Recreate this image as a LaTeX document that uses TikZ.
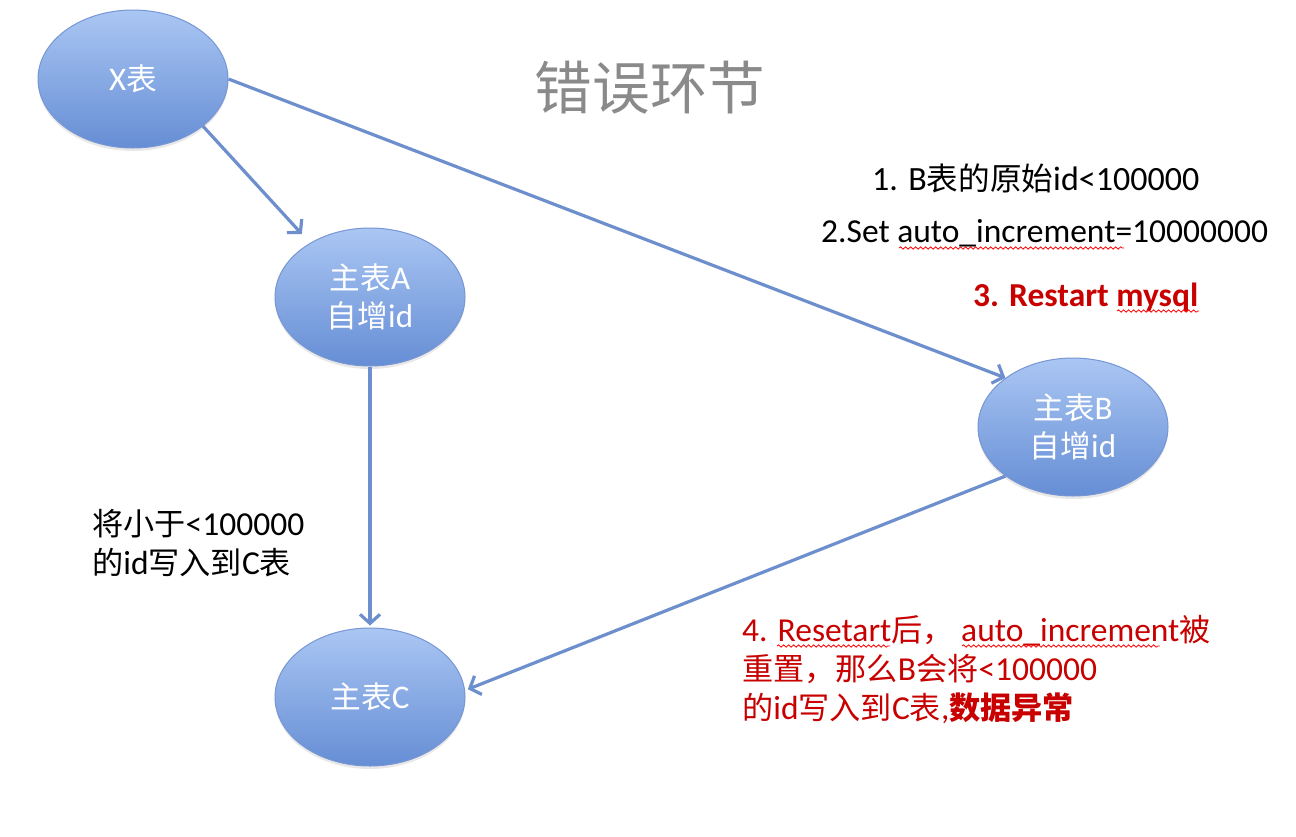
\documentclass[tikz,border=0pt]{standalone}
\usepackage{fontspec}
\setmainfont{Carlito}
\newfontfamily\cjk[Scale=0.93]{Noto Sans CJK SC}
\newcommand\C[1]{{\cjk #1}}
\usetikzlibrary{shapes.geometric,arrows.meta,shadows,decorations.pathmorphing}
\definecolor{elltop}{RGB}{170,198,243}
\definecolor{ellbot}{RGB}{102,142,213}
\definecolor{ellline}{RGB}{118,150,212}
\definecolor{arr}{RGB}{110,143,205}
\definecolor{redtxt}{RGB}{200,0,0}
\definecolor{titlegray}{RGB}{138,138,138}
\tikzset{
  ell/.style={ellipse, minimum width=190pt, minimum height=138pt, inner sep=0pt,
    top color=elltop, bottom color=ellbot, draw=ellline, line width=1pt,
    text=white, align=center, font=\fontsize{33}{38}\selectfont,
    drop shadow={opacity=0.18, shadow xshift=0pt, shadow yshift=-3pt}},
  conn/.style={draw=arr, line width=3.2pt, -{Straight Barb[length=9pt,width=20pt]}},
  lbl/.style={inner sep=0pt, anchor=west, align=left, font=\fontsize{33.5}{39}\selectfont},
  squig/.style={draw=red, line width=0.8pt, decorate, decoration={snake, amplitude=1.2pt, segment length=5pt}}
}
\begin{document}
\begin{tikzpicture}[x=1pt,y=-1pt]
\useasboundingbox[fill=white] (0,0) rectangle (1296,836);
% title
\node[inner sep=0pt, text=titlegray, font=\fontsize{62}{62}\selectfont] (title) at (650,88) {\C{错误环节}};
% ellipses
\node[ell] (X) at (133,79) {X\C{表}};
\node[ell] (A) at (370,297) {\C{主表}A\\\C{自增}id};
\node[ell] (B) at (1073,427) {\C{主表}B\\\C{自增}id};
\node[ell] (Cn) at (370,697) {\C{主表}C};
% connectors
\draw[conn, shorten >=12pt] (X.-34) -- (A.138);
\draw[conn] (X.0) -- (B.144);
\draw[conn, shorten >=2pt] (A.-90) -- (Cn.90);
\draw[conn, shorten >=3pt] (B.216) -- (Cn.4);
% labels
\node[lbl, font=\fontsize{34}{39}\selectfont] (l1) at (872,178) {1. B\C{表的原始}id<100000};
\node[lbl] (l2) at (821,233) {2.Set auto\_increment=10000000};
\node[lbl, text=redtxt, font=\fontsize{33.5}{39}\selectfont\bfseries] (l3) at (973,297) {3. Restart mysql};
\node[lbl] (l4) at (92,543) {\C{将小于}<100000\\\C{的}id\C{写入到}C\C{表}};
\node[lbl, text=redtxt] (l5) at (742,670) {4. Resetart\C{后，} auto\_increment\C{被}\\\C{重置，那么}B\C{会将}<100000\\\C{的}id\C{写入到}C\C{表},{\cjk\bfseries 数据异常}};
% spell-check squiggles
\draw[squig] (899,248) -- (1124,248);
\draw[squig] (1117,311) -- (1199,311);
\draw[squig] (777,646) -- (890,646);
\draw[squig] (962,646) -- (1160,646);
\end{tikzpicture}
\end{document}
